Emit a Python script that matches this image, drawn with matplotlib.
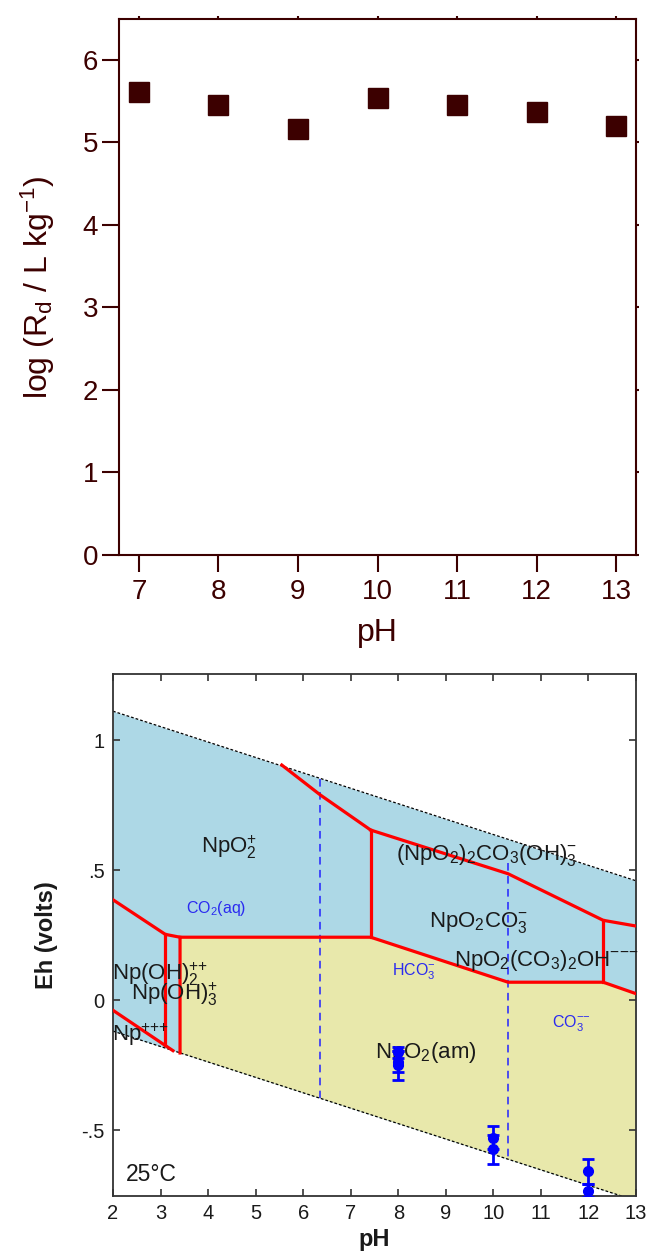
import matplotlib
matplotlib.use("Agg")
import matplotlib.pyplot as plt
from matplotlib.ticker import FuncFormatter

plt.rcParams['font.family'] = ['Liberation Sans', 'DejaVu Sans']
plt.rcParams['mathtext.fontset'] = 'custom'
plt.rcParams['mathtext.rm'] = 'Liberation Sans'
plt.rcParams['mathtext.it'] = 'Liberation Sans:italic'
plt.rcParams['mathtext.bf'] = 'Liberation Sans:bold'

# ---------------- top panel data ----------------
rd_pH = [7, 8, 9, 10, 11, 12, 13]
rd_logRd = [5.61, 5.45, 5.16, 5.54, 5.45, 5.37, 5.20]
top_xticks = [7, 8, 9, 10, 11, 12, 13]
top_yticks = [0, 1, 2, 3, 4, 5, 6]

# ---------------- bottom panel data (Eh-pH diagram) ----------------
water_up_pH = [2, 13]
water_up_Eh = [1.112, 0.460]
water_lo_pH = [2, 13]
water_lo_Eh = [-0.118, -0.770]

# NpO2(am) field outline
am_pH = [3.41, 3.41, 7.42, 10.31, 12.31, 13.0, 13.0]
am_Eh = [-0.202, 0.243, 0.243, 0.070, 0.070, 0.026, -0.770]

red_lines = [
    ([5.55, 6.36, 7.42], [0.905, 0.790, 0.655]),
    ([7.42, 7.42], [0.655, 0.243]),
    ([7.42, 10.31, 12.31, 13.0], [0.655, 0.487, 0.308, 0.286]),
    ([12.31, 12.31], [0.308, 0.070]),
    ([3.41, 3.41, 7.42, 10.31, 12.31, 13.0], [-0.202, 0.243, 0.243, 0.070, 0.070, 0.026]),
    ([2.0, 3.10, 3.41], [0.387, 0.254, 0.243]),
    ([3.10, 3.10], [0.254, -0.172]),
    ([2.0, 3.26], [-0.038, -0.193]),
]

carb_pH = [6.36, 10.31]
carb_top = [0.853, 0.530]
carb_bot = [-0.377, -0.610]

pts_pH = [8, 8, 8, 10, 10, 12, 12]
pts_Eh = [-0.200, -0.235, -0.250, -0.528, -0.573, -0.656, -0.731]
pts_err = [0.020, 0.040, 0.055, 0.045, 0.054, 0.048, 0.025]

species = [
    (r'$\mathrm{NpO_2^{+}}$', 4.44, 0.59, 'center'),
    (r'$\mathrm{(NpO_2)_2CO_3(OH)_3^{-}}$', 7.96, 0.558, 'left'),
    (r'$\mathrm{NpO_2CO_3^{-}}$', 8.65, 0.30, 'left'),
    (r'$\mathrm{NpO_2(CO_3)_2OH^{{-}{-}{-}}}$', 9.17, 0.155, 'left'),
    (r'$\mathrm{Np(OH)_2^{{+}{+}}}$', 1.98, 0.10, 'left'),
    (r'$\mathrm{Np(OH)_3^{+}}$', 2.38, 0.023, 'left'),
    (r'$\mathrm{Np^{{+}{+}{+}}}$', 1.98, -0.131, 'left'),
    (r'$\mathrm{NpO_2(am)}$', 7.52, -0.199, 'left'),
]
carb_labels = [
    (r'$\mathrm{CO_2(aq)}$', 4.16, 0.354),
    (r'$\mathrm{HCO_3^{-}}$', 8.33, 0.109),
    (r'$\mathrm{CO_3^{{-}{-}}}$', 11.63, -0.089),
]
bot_xticks = list(range(2, 14))
bot_yticks = [-0.5, 0, 0.5, 1]

W, H = 647, 1252
fig = plt.figure(figsize=(W / 100, H / 100), dpi=100)

# ---------------- top panel ----------------
mar = '#3c0000'
ax1 = fig.add_axes([119 / W, 1 - 555 / H, (636 - 119) / W, (555 - 18.5) / H])
ax1.plot(rd_pH, rd_logRd, linestyle='none', marker='s', markersize=15,
         color=mar, markeredgecolor=mar)
ax1.set_xlim(6.75, 13.25)
ax1.set_ylim(0, 6.5)
ax1.set_xticks(top_xticks)
ax1.set_yticks(top_yticks)
for s in ax1.spines.values():
    s.set_color(mar)
    s.set_linewidth(1.5)
ax1.tick_params(axis='both', which='major', direction='out', length=12, width=1.5,
                color=mar, labelcolor=mar, labelsize=20)
ax1.tick_params(axis='x', pad=5)
ax1.tick_params(axis='y', pad=3)
ax1.tick_params(top=True, right=True, labeltop=False, labelright=False)
for t in ax1.xaxis.get_ticklines(minor=False)[1::2]:
    t.set_markersize(2.5)
for t in ax1.yaxis.get_ticklines(minor=False)[1::2]:
    t.set_markersize(2.5)
ax1.set_xlabel('pH', fontsize=23, color=mar)
ax1.xaxis.set_label_coords(0.5, -0.118)
ax1.set_ylabel(r'log (R$_\mathrm{d}$ / L kg$^{-1}$)', fontsize=23, color=mar)
ax1.yaxis.set_label_coords(-0.12, 0.5)

# ---------------- bottom panel ----------------
ax2 = fig.add_axes([113 / W, 1 - 1195.5 / H, 523 / W, (1195.5 - 674) / H])
ax2.set_xlim(2, 13)
ax2.set_ylim(-0.75, 1.255)

blue_fill = '#add8e6'
yel_fill = '#e8e8ab'
ax2.fill_between(water_up_pH, water_up_Eh, water_lo_Eh, color=blue_fill, lw=0, zorder=1)
ax2.fill(am_pH, am_Eh, color=yel_fill, lw=0, zorder=1.5)

ax2.plot(water_up_pH, water_up_Eh, color='black', lw=0.9, dashes=(2.2, 1.6), zorder=2)
ax2.plot(water_lo_pH, water_lo_Eh, color='black', lw=0.9, dashes=(2.2, 1.6), zorder=2)

for x, t, b in zip(carb_pH, carb_top, carb_bot):
    ax2.plot([x, x], [t, b], color='#2222ff', lw=1.1, dashes=(5, 3.5), zorder=2.5)

for xs, ys in red_lines:
    ax2.plot(xs, ys, color='#ff0000', lw=2.3, solid_joinstyle='miter', zorder=3)

for txt, x, y, ha in species:
    ax2.text(x, y, txt, fontsize=16, color='#1a1a1a', ha=ha, va='center', zorder=4)
for txt, x, y in carb_labels:
    ax2.text(x, y, txt, fontsize=11.5, color='#2a2af0', ha='center', va='center', zorder=4)
ax2.text(2.27, -0.669, '25°C', fontsize=16.5, color='#1a1a1a', ha='left', va='center', zorder=4)

ax2.errorbar(pts_pH, pts_Eh, yerr=pts_err, fmt='o', color='#0000ff', markersize=7,
             ecolor='#0000ff', elinewidth=2, capsize=4, capthick=2, zorder=5, clip_on=True)

ax2.set_xticks(bot_xticks)
ax2.set_yticks(bot_yticks)


def eh_fmt(v, pos):
    if abs(v) < 1e-9:
        return '0'
    if abs(v - round(v)) < 1e-9:
        return '%d' % round(v)
    s = ('%g' % v)
    return s.replace('0.', '.')


ax2.yaxis.set_major_formatter(FuncFormatter(eh_fmt))
for s in ax2.spines.values():
    s.set_color('#333333')
    s.set_linewidth(1.3)
ax2.tick_params(axis='both', direction='in', length=5, width=1.2, color='#333333',
                labelcolor='#1a1a1a', labelsize=14.5, top=True, right=True)
ax2.tick_params(axis='x', pad=6)
ax2.tick_params(axis='y', pad=6)
ax2.set_xlabel('pH', fontsize=17, fontweight='bold', color='#1a1a1a')
ax2.xaxis.set_label_coords(0.5, -0.062)
ax2.set_ylabel('Eh (volts)', fontsize=17, fontweight='bold', color='#1a1a1a')
ax2.yaxis.set_label_coords(-0.106, 0.5)

fig.savefig('out.png', dpi=100)
